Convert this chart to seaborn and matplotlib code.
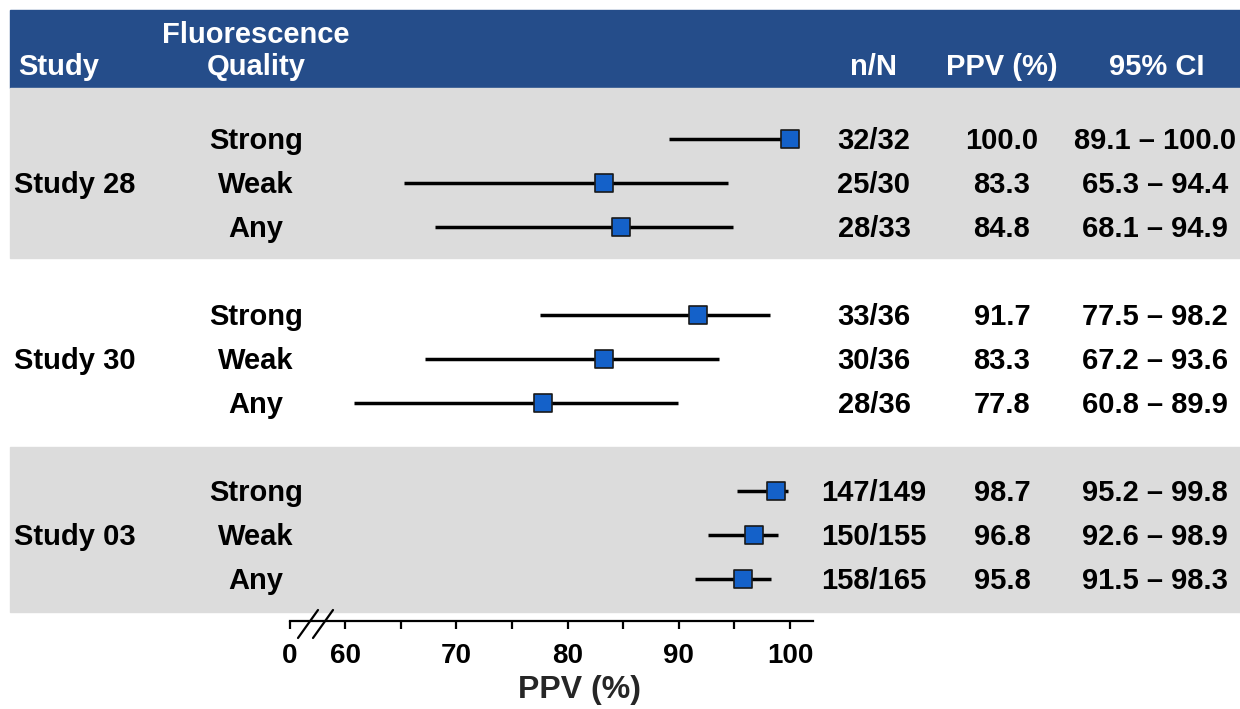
import numpy as np
import pandas as pd
import seaborn as sns
import matplotlib.pyplot as plt
import matplotlib.transforms as mtrans
from matplotlib.patches import Rectangle

# data
studies = ['Study 28', 'Study 30', 'Study 03']
quality = ['Strong', 'Weak', 'Any']
n_pos = [32, 25, 28, 33, 30, 28, 147, 150, 158]
n_tot = [32, 30, 33, 36, 36, 36, 149, 155, 165]
ppv = [100.0, 83.3, 84.8, 91.7, 83.3, 77.8, 98.7, 96.8, 95.8]
ci_low = [89.1, 65.3, 68.1, 77.5, 67.2, 60.8, 95.2, 92.6, 91.5]
ci_high = [100.0, 94.4, 94.9, 98.2, 93.6, 89.9, 99.8, 98.9, 98.3]
tick_vals = [60, 65, 70, 75, 80, 85, 90, 95, 100]

df = pd.DataFrame({'study': np.repeat(studies, 3), 'quality': quality * 3,
                   'n': n_pos, 'N': n_tot, 'ppv': ppv, 'lo': ci_low, 'hi': ci_high})
df['row'] = [g * 4 + r for g in range(len(studies)) for r in range(len(quality))]

sns.set_style('white')
plt.rcParams['font.family'] = ['Liberation Sans', 'DejaVu Sans']
plt.rcParams['font.weight'] = 'bold'

BLUE = '#254d8a'
GRAY = '#dcdcdc'
FS = 21

# pixel <-> data helpers (layout only)
def xv(px):
    return 60 + (px - 345) / 11.125

def rv(py):
    return (py - 139) / 44.0

fig = plt.figure(figsize=(12.4, 7.09), dpi=100)
bg = fig.add_axes([0, 0, 1, 1])
bg.set_xlim(0, 1240)
bg.set_ylim(709, 0)
bg.axis('off')

bg.add_patch(Rectangle((10, 10), 1230, 78, color=BLUE, zorder=0))
bg.add_patch(Rectangle((10, 88), 1230, 170, color=GRAY, zorder=0))
bg.add_patch(Rectangle((10, 447), 1230, 165, color=GRAY, zorder=0))

fax = fig.add_axes([290 / 1240, 0, 523 / 1240, 1])
fax.patch.set_alpha(0)
fax.hlines(df['row'], df['lo'], df['hi'], color='black', lw=2.5, zorder=2)
sns.scatterplot(data=df, x='ppv', y='row', marker='s', s=155, color='#1461c9',
                edgecolor='#1a1a1a', linewidth=1.2, legend=False, ax=fax, zorder=3)
fax.set_xlim(xv(290), xv(813))
fax.set_ylim(rv(709), rv(0))
for s in ['top', 'left', 'right']:
    fax.spines[s].set_visible(False)
fax.spines['bottom'].set_position(('data', rv(621)))
fax.spines['bottom'].set_linewidth(1.6)
fax.spines['bottom'].set_color('black')
fax.set_yticks([])
fax.set_xticks([xv(290)] + tick_vals)
fax.set_xticklabels(['0'] + [str(v) if v % 10 == 0 else '' for v in tick_vals])
fax.tick_params(axis='x', direction='out', length=6, width=1.6, labelsize=20,
                pad=10, bottom=True, colors='black')
for lab in fax.get_xticklabels():
    lab.set_fontweight('bold')
fax.set_xlabel('')
fax.set_ylabel('')

# axis break
bg.plot([309, 324], [621, 621], color='white', lw=4, zorder=5)
bg.plot([298, 318], [638, 610], color='black', lw=1.6, zorder=6)
bg.plot([313, 333], [638, 610], color='black', lw=1.6, zorder=6)
bg.text(580, 690, 'PPV (%)', ha='center', va='center', fontsize=23, fontweight='bold')

# header
hd = dict(color='white', fontsize=FS, fontweight='bold', va='center_baseline')
bg.text(18, 64, 'Study', ha='left', **hd)
bg.text(256, 32, 'Fluorescence', ha='center', **hd)
bg.text(256, 64, 'Quality', ha='center', **hd)
bg.text(874, 64, 'n/N', ha='center', **hd)
bg.text(1002, 64, 'PPV (%)', ha='center', **hd)
bg.text(1157, 64, '95% CI', ha='center', **hd)

# table text
tr = mtrans.blended_transform_factory(bg.transData, fax.transData)
tk = dict(color='black', fontsize=FS, fontweight='bold', va='center_baseline', transform=tr)
dy = -0.02
for _, r in df.iterrows():
    bg.text(256, r['row'] + dy, r['quality'], ha='center', **tk)
    bg.text(874, r['row'] + dy, f"{r['n']}/{r['N']}", ha='center', **tk)
    bg.text(1002, r['row'] + dy, f"{r['ppv']:.1f}", ha='center', **tk)
    bg.text(1155, r['row'] + dy, f"{r['lo']:.1f} \u2013 {r['hi']:.1f}", ha='center', **tk)
for g, name in enumerate(studies):
    mid = df.loc[df['study'] == name, 'row'].mean()
    bg.text(14, mid + dy, name, ha='left', **tk)

fig.savefig('out.png', dpi=100)
